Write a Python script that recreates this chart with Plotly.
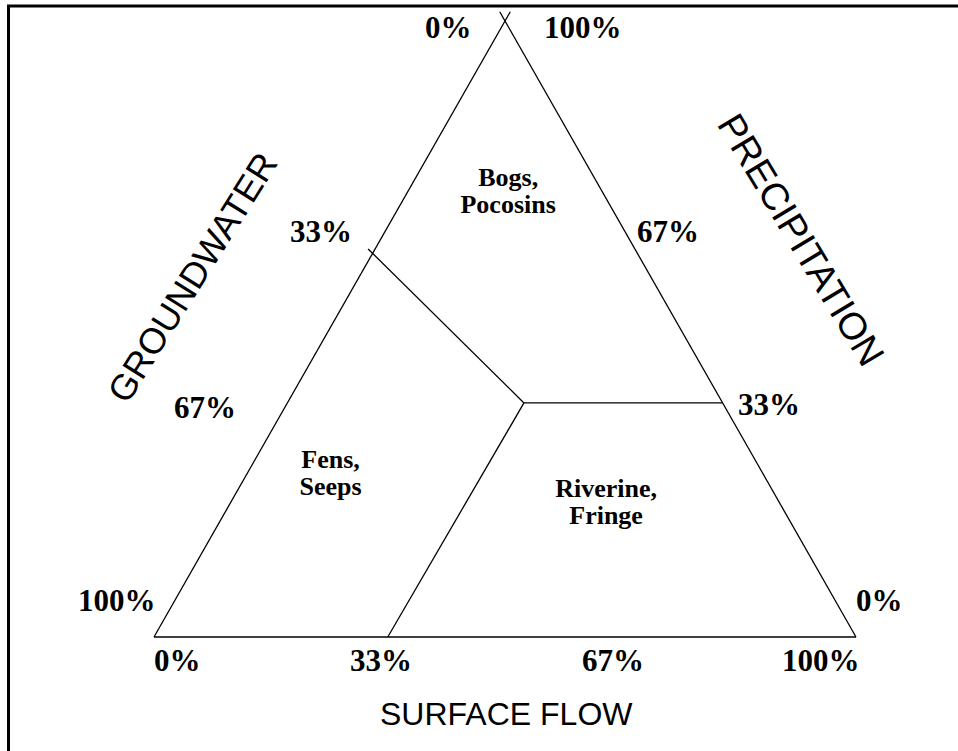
import plotly.graph_objects as go

# ---------------- data (ternary fractions: groundwater G, precipitation P, surface flow S) -------------
# triangle sides (the two upper sides overshoot the apex slightly, as in the original drawing)
side_left_G = [1.0, -0.015]
side_left_P = [0.0, 1.015]
side_left_S = [0.0, 0.0]
side_bottom_G = [1.0, 0.0]
side_bottom_P = [0.0, 0.0]
side_bottom_S = [0.0, 1.0]
side_right_G = [0.0, 0.0]
side_right_P = [0.0, 1.015]
side_right_S = [1.0, -0.015]

# class boundaries: from the junction point out to each side
junction_G, junction_P, junction_S = 0.283, 0.38, 0.337
boundary_end_G = [0.38, 0.0, 0.667]
boundary_end_P = [0.63, 0.38, 0.0]
boundary_end_S = [-0.01, 0.62, 0.333]

# wetland classes (two text lines each) and their label locations
region_line1 = ["Bogs,", "Fens,", "Riverine,"]
region_line2 = ["Pocosins", "Seeps", "Fringe"]
region_G = [0.135, 0.617, 0.248]
region_P = [0.721, 0.263, 0.216]
region_S = [0.144, 0.120, 0.536]

# axis tick labels
tick_labels = ["0%", "33%", "67%", "100%"]
axis_titles = ["GROUNDWATER", "PRECIPITATION", "SURFACE FLOW"]


def to_xy(G, P, S):
    """ternary fractions -> cartesian position of the triangle (base 0..1, height 0..1)"""
    x = [s + p / 2.0 for s, p in zip(S, P)]
    y = list(P)
    return x, y


# ---------------- layout constants (pixels) ----------------
W, H = 958, 751
X0, X1 = 154, 856      # triangle base corners
YB, YT = 637, 21       # triangle base / apex
LINE_GAP = 13.5        # half the spacing between the two lines of a class label


def px(xp):
    return xp / W


def py(yp):
    return 1 - yp / H


fig = go.Figure()
line_style = dict(color="black", width=1.3)

for G, P, S in [(side_left_G, side_left_P, side_left_S),
                (side_bottom_G, side_bottom_P, side_bottom_S),
                (side_right_G, side_right_P, side_right_S)]:
    x, y = to_xy(G, P, S)
    fig.add_trace(go.Scatter(x=x, y=y, mode="lines", line=line_style, hoverinfo="skip"))

for g, p, s in zip(boundary_end_G, boundary_end_P, boundary_end_S):
    x, y = to_xy([junction_G, g], [junction_P, p], [junction_S, s])
    fig.add_trace(go.Scatter(x=x, y=y, mode="lines", line=line_style, hoverinfo="skip"))

rx, ry = to_xy(region_G, region_P, region_S)
dy = LINE_GAP / (YB - YT)
region_font = dict(family="Liberation Serif", size=26, color="black")
fig.add_trace(go.Scatter(x=rx, y=[v + dy for v in ry], mode="text",
                         text=["<b>" + t + "</b>" for t in region_line1],
                         textposition="middle center", textfont=region_font, hoverinfo="skip"))
fig.add_trace(go.Scatter(x=rx, y=[v - dy for v in ry], mode="text",
                         text=["<b>" + t + "</b>" for t in region_line2],
                         textposition="middle center", textfont=region_font, hoverinfo="skip"))

num_font = dict(family="Liberation Serif", size=31, color="black")
annotations = []
# bottom (surface flow) labels
bottom_pos = [(177, 660), (381, 660), (613, 660), (821, 660)]
# left (groundwater) labels: 0% at apex, 100% at bottom-left
left_pos = [(448, 27), (321, 232), (205, 407), (117, 600)]
# right (precipitation) labels: 0% at bottom-right, 100% at apex
right_pos = [(879, 600), (769, 405), (668, 232), (583, 27)]
for pos_list in (bottom_pos, left_pos, right_pos):
    for lab, (xp, yp) in zip(tick_labels, pos_list):
        annotations.append(dict(x=px(xp), y=py(yp), xref="paper", yref="paper",
                                text="<b>" + lab + "</b>", showarrow=False,
                                xanchor="center", yanchor="middle", font=num_font))

annotations.append(dict(x=px(192), y=py(277), xref="paper", yref="paper", text=axis_titles[0],
                        textangle=-58, showarrow=False, xanchor="center", yanchor="middle",
                        font=dict(family="Liberation Sans", size=36, color="black")))
annotations.append(dict(x=px(801), y=py(240), xref="paper", yref="paper", text=axis_titles[1],
                        textangle=59, showarrow=False, xanchor="center", yanchor="middle",
                        font=dict(family="Liberation Sans", size=38, color="black")))
annotations.append(dict(x=px(506), y=py(714), xref="paper", yref="paper", text=axis_titles[2],
                        showarrow=False, xanchor="center", yanchor="middle",
                        font=dict(family="Liberation Sans", size=32, color="black")))

# frame (only the top and left edges are inside the picture)
shapes = [dict(type="rect", xref="paper", yref="paper", x0=px(8.5), x1=1.2,
               y0=-0.2, y1=py(6), line=dict(color="black", width=3))]

fig.update_layout(
    width=W, height=H, margin=dict(l=0, r=0, t=0, b=0),
    paper_bgcolor="white", plot_bgcolor="white", showlegend=False,
    xaxis=dict(visible=False, range=[-X0 / (X1 - X0), (W - X0) / (X1 - X0)], fixedrange=True),
    yaxis=dict(visible=False, range=[(YB - H) / (YB - YT), YB / (YB - YT)], fixedrange=True),
    annotations=annotations, shapes=shapes,
)

fig.write_html("out.html", config={"displayModeBar": False},
               post_script="document.body.style.margin='0';document.body.style.overflow='hidden';")
